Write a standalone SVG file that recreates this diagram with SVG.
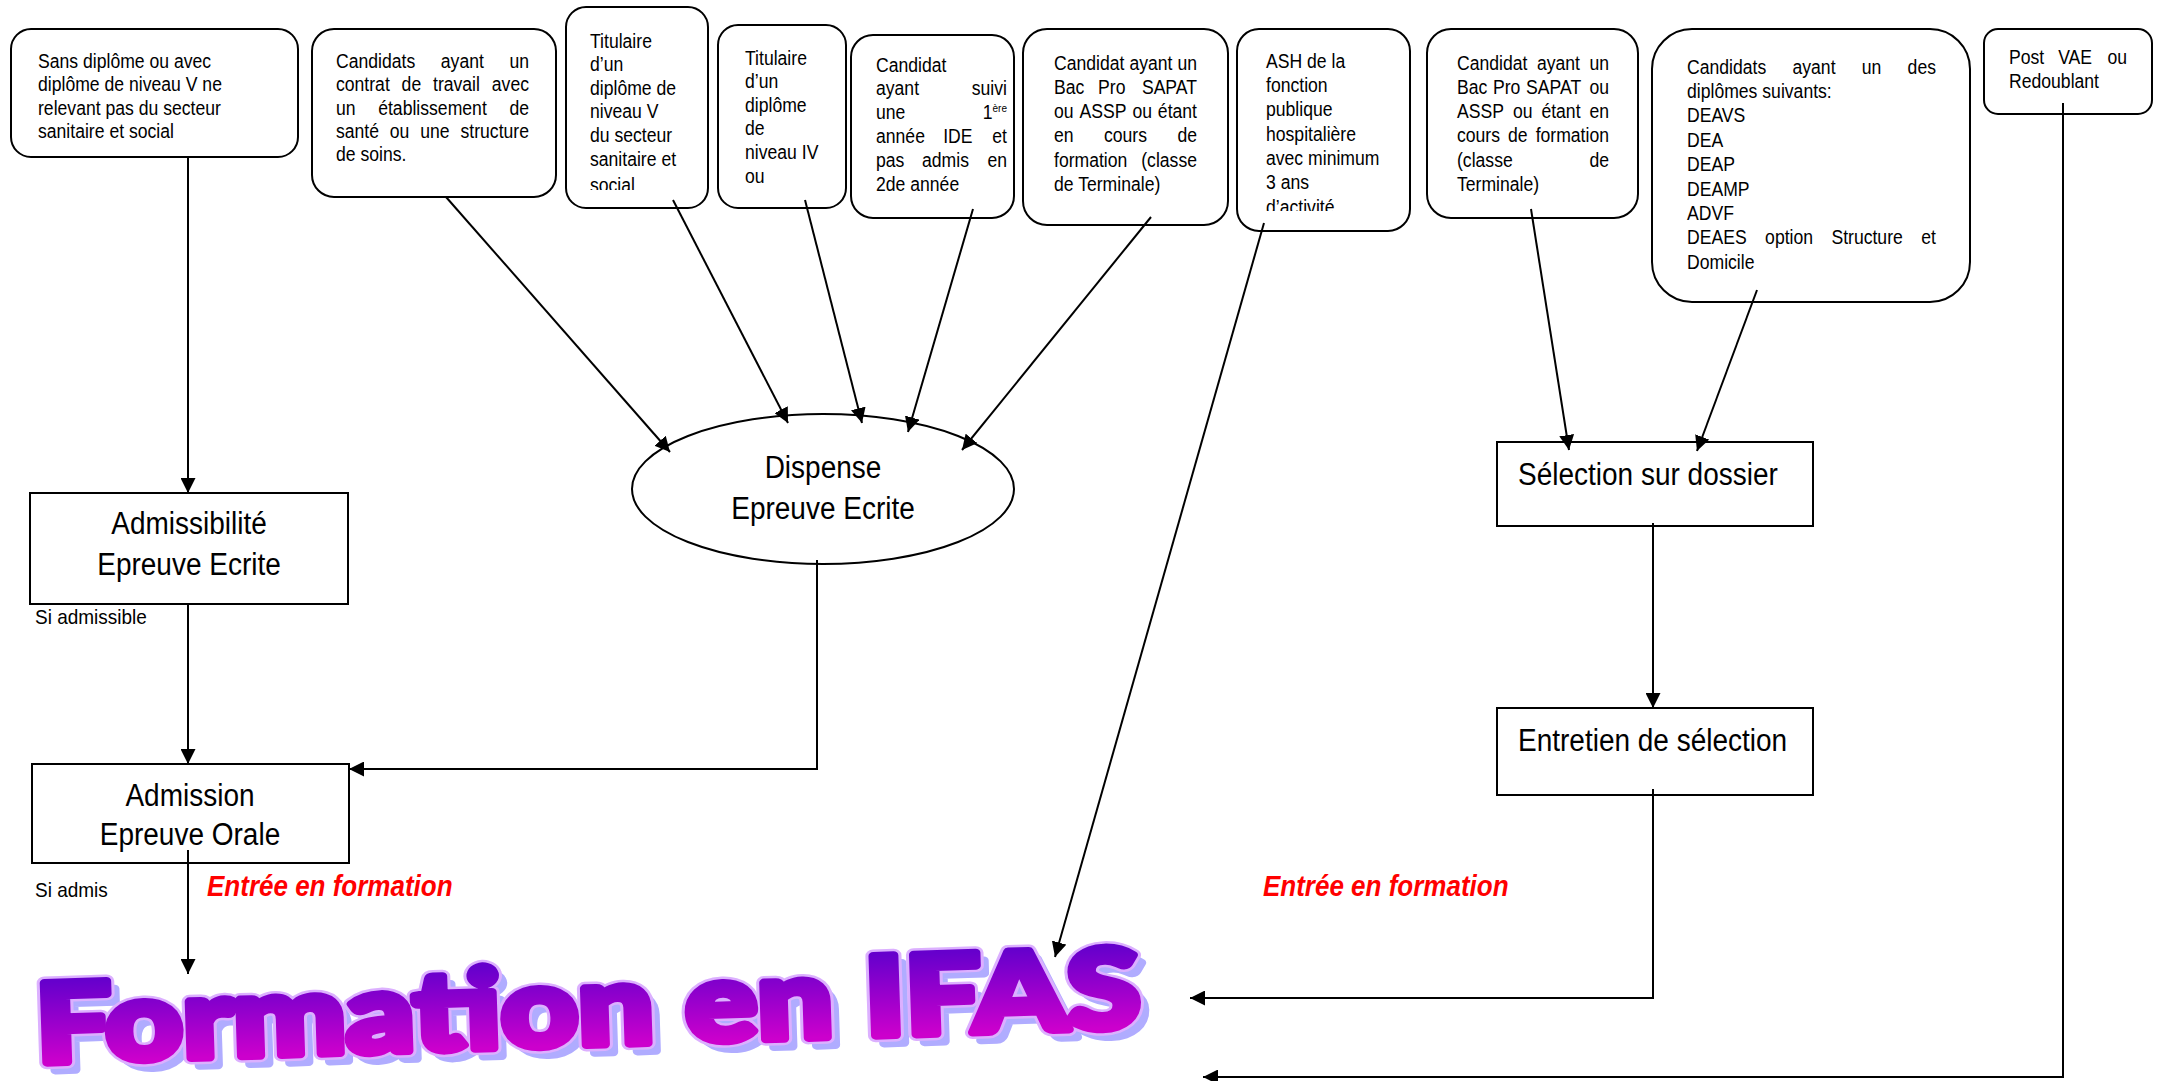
<svg xmlns="http://www.w3.org/2000/svg" width="2157" height="1081" viewBox="0 0 2157 1081">
<style>
.box{fill:#fff;stroke:#000;stroke-width:2}
.t,.big,.lbl,.red{transform-box:fill-box;transform-origin:0 100%;transform:scale(1,1.1)}
.t{font-family:"Liberation Sans",Arial,sans-serif;font-size:17.6px;fill:#000}
.e{text-anchor:end}
.m{text-anchor:middle}
.big{font-family:"Liberation Sans",Arial,sans-serif;font-size:28px;fill:#000}
.lbl{font-family:"Liberation Sans",Arial,sans-serif;font-size:19px;fill:#000}
.red{font-family:"Liberation Sans",Arial,sans-serif;font-size:26px;font-weight:bold;font-style:italic;fill:#ff0000}
.conn{stroke:#000;stroke-width:2;fill:none;marker-end:url(#arrow)}
.ifas{font-family:"Lato","Roboto","Inter","Liberation Sans",sans-serif;font-weight:900;font-size:110px;stroke-linejoin:round}
</style>
<defs>
<marker id="arrow" markerUnits="userSpaceOnUse" viewBox="0 0 15 15" refX="15" refY="7.5" markerWidth="15" markerHeight="15" orient="auto">
<path d="M0,0 L15,7.5 L0,15 z" fill="#000"/>
</marker>
<linearGradient id="grad" gradientUnits="userSpaceOnUse" x1="0" y1="982" x2="0" y2="1063">
<stop offset="0" stop-color="#6600cc"/>
<stop offset="1" stop-color="#cc00cc"/>
</linearGradient>
<clipPath id="clip3"><rect x="566" y="7" width="142" height="183"/></clipPath>
<clipPath id="clip7"><rect x="1237" y="29" width="173" height="182"/></clipPath>
</defs>
<rect width="2157" height="1081" fill="#fff"/>

<g id="n1">
<rect class="box" x="11" y="29" width="287" height="128" rx="20"/>
<text class="t" x="38" y="68">Sans diplôme ou avec</text>
<text class="t" x="38" y="91">diplôme de niveau V ne</text>
<text class="t" x="38" y="115">relevant pas du secteur</text>
<text class="t" x="38" y="138">sanitaire et social</text>
</g>

<g id="n2">
<rect class="box" x="312" y="29" width="244" height="168" rx="22"/>
<text class="t" x="336" y="68">Candidats</text><text class="t" x="440.8" y="68">ayant</text><text class="t e" x="529" y="68">un</text>
<text class="t" x="336" y="91">contrat</text><text class="t" x="401.6" y="91">de</text><text class="t" x="433" y="91">travail</text><text class="t e" x="529" y="91">avec</text>
<text class="t" x="336" y="115">un</text><text class="t" x="378.2" y="115">établissement</text><text class="t e" x="529" y="115">de</text>
<text class="t" x="336" y="138">santé</text><text class="t" x="389.8" y="138">ou</text><text class="t" x="420.2" y="138">une</text><text class="t e" x="529" y="138">structure</text>
<text class="t" x="336" y="161">de soins.</text>
</g>

<g id="n3">
<rect class="box" x="566" y="7" width="142" height="201" rx="20"/>
<g clip-path="url(#clip3)">
<text class="t" x="590" y="48">Titulaire</text>
<text class="t" x="590" y="71.6">d’un</text>
<text class="t" x="590" y="95.2">diplôme de</text>
<text class="t" x="590" y="118.8">niveau V</text>
<text class="t" x="590" y="142.4">du secteur</text>
<text class="t" x="590" y="166">sanitaire et</text>
<text class="t" x="590" y="192">social</text>
</g>
</g>

<g id="n4">
<rect class="box" x="718" y="25" width="128" height="183" rx="20"/>
<text class="t" x="745" y="65">Titulaire</text>
<text class="t" x="745" y="88.6">d’un</text>
<text class="t" x="745" y="112.2">diplôme</text>
<text class="t" x="745" y="135.8">de</text>
<text class="t" x="745" y="159.4">niveau IV</text>
<text class="t" x="745" y="183">ou</text>
</g>

<g id="n5">
<rect class="box" x="851" y="35" width="163" height="183" rx="22"/>
<text class="t" x="876" y="72">Candidat</text>
<text class="t" x="876" y="95.8">ayant</text><text class="t e" x="1007" y="95.8">suivi</text>
<text class="t" x="876" y="119.6">une</text><text class="t e" x="1007" y="119.6">1<tspan font-size="10" dy="-7">ère</tspan></text>
<text class="t" x="876" y="143.4">année</text><text class="t" x="943.2" y="143.4">IDE</text><text class="t e" x="1007" y="143.4">et</text>
<text class="t" x="876" y="167.2">pas</text><text class="t" x="922" y="167.2">admis</text><text class="t e" x="1007" y="167.2">en</text>
<text class="t" x="876" y="191">2de année</text>
</g>

<g id="n6">
<rect class="box" x="1023" y="29" width="205" height="196" rx="24"/>
<text class="t" x="1054" y="70">Candidat</text><text class="t" x="1129.4" y="70">ayant</text><text class="t e" x="1197" y="70">un</text>
<text class="t" x="1054" y="94">Bac</text><text class="t" x="1098.1" y="94">Pro</text><text class="t e" x="1197" y="94">SAPAT</text>
<text class="t" x="1054" y="118">ou</text><text class="t" x="1079.5" y="118">ASSP</text><text class="t" x="1132.4" y="118">ou</text><text class="t e" x="1197" y="118">étant</text>
<text class="t" x="1054" y="142.5">en</text><text class="t" x="1104" y="142.5">cours</text><text class="t e" x="1197" y="142.5">de</text>
<text class="t" x="1054" y="167">formation</text><text class="t e" x="1197" y="167">(classe</text>
<text class="t" x="1054" y="191">de Terminale)</text>
</g>

<g id="n7">
<rect class="box" x="1237" y="29" width="173" height="202" rx="22"/>
<g clip-path="url(#clip7)">
<text class="t" x="1266" y="68">ASH de la</text>
<text class="t" x="1266" y="92.3">fonction</text>
<text class="t" x="1266" y="116.6">publique</text>
<text class="t" x="1266" y="140.9">hospitalière</text>
<text class="t" x="1266" y="165.2">avec minimum</text>
<text class="t" x="1266" y="189.5">3 ans</text>
<text class="t" x="1266" y="214">d’activité</text>
</g>
</g>

<g id="n8">
<rect class="box" x="1427" y="29" width="211" height="189" rx="24"/>
<text class="t" x="1457" y="70">Candidat</text><text class="t" x="1536.9" y="70">ayant</text><text class="t e" x="1609" y="70">un</text>
<text class="t" x="1457" y="94">Bac</text><text class="t" x="1493" y="94">Pro</text><text class="t" x="1526.1" y="94">SAPAT</text><text class="t e" x="1609" y="94">ou</text>
<text class="t" x="1457" y="118">ASSP</text><text class="t" x="1512.9" y="118">ou</text><text class="t" x="1541.4" y="118">étant</text><text class="t e" x="1609" y="118">en</text>
<text class="t" x="1457" y="142.5">cours</text><text class="t" x="1508" y="142.5">de</text><text class="t e" x="1609" y="142.5">formation</text>
<text class="t" x="1457" y="167">(classe</text><text class="t e" x="1609" y="167">de</text>
<text class="t" x="1457" y="191">Terminale)</text>
</g>

<g id="n9">
<rect class="box" x="1652" y="29" width="318" height="273" rx="40"/>
<text class="t" x="1687" y="74">Candidats</text><text class="t" x="1792.5" y="74">ayant</text><text class="t" x="1861.8" y="74">un</text><text class="t e" x="1936" y="74">des</text>
<text class="t" x="1687" y="98.4">diplômes suivants:</text>
<text class="t" x="1687" y="122.8">DEAVS</text>
<text class="t" x="1687" y="147.2">DEA</text>
<text class="t" x="1687" y="171.6">DEAP</text>
<text class="t" x="1687" y="196">DEAMP</text>
<text class="t" x="1687" y="220.4">ADVF</text>
<text class="t" x="1687" y="244.8">DEAES</text><text class="t" x="1765.1" y="244.8">option</text><text class="t" x="1831.4" y="244.8">Structure</text><text class="t e" x="1936" y="244.8">et</text>
<text class="t" x="1687" y="269.2">Domicile</text>
</g>

<g id="n10">
<rect class="box" x="1984" y="29" width="168" height="85" rx="14"/>
<text class="t" x="2009" y="64">Post</text><text class="t" x="2058.2" y="64">VAE</text><text class="t e" x="2127" y="64">ou</text>
<text class="t" x="2009" y="88">Redoublant</text>
</g>

<g id="n-admissibilite">
<rect class="box" x="30" y="493" width="318" height="111"/>
<text class="big m" x="189" y="535">Admissibilité</text>
<text class="big m" x="189" y="576">Epreuve Ecrite</text>
</g>

<g id="n-admission">
<rect class="box" x="32" y="764" width="317" height="99"/>
<text class="big m" x="190" y="807">Admission</text>
<text class="big m" x="190" y="846">Epreuve Orale</text>
</g>

<g id="n-dispense">
<ellipse class="box" cx="823" cy="489" rx="191" ry="75"/>
<text class="big m" x="823" y="479">Dispense</text>
<text class="big m" x="823" y="520">Epreuve Ecrite</text>
</g>

<g id="n-selection">
<rect class="box" x="1497" y="442" width="316" height="84"/>
<text class="big" x="1518" y="486">Sélection sur dossier</text>
</g>

<g id="n-entretien">
<rect class="box" x="1497" y="708" width="316" height="87"/>
<text class="big" x="1518" y="752">Entretien de sélection</text>
</g>

<g id="labels">
<text class="lbl" x="35" y="624">Si admissible</text>
<text class="lbl" x="35" y="897">Si admis</text>
<text class="red" x="207" y="897">Entrée en formation</text>
<text class="red" x="1263" y="897">Entrée en formation</text>
</g>

<g id="n-ifas" transform="rotate(-1.86 36 1063)">
<text class="ifas" x="45" y="1071" textLength="1105" lengthAdjust="spacingAndGlyphs" fill="#b0acff" stroke="#b0acff" stroke-width="8">Formation en IFAS</text>
<text class="ifas" x="37" y="1063" textLength="1105" lengthAdjust="spacingAndGlyphs" fill="none" stroke="#dcb0ff" stroke-width="13">Formation en IFAS</text>
<text class="ifas" x="37" y="1063" textLength="1105" lengthAdjust="spacingAndGlyphs" fill="url(#grad)" stroke="url(#grad)" stroke-width="8">Formation en IFAS</text>
</g>

<g id="connectors">
<path class="conn" d="M188,157 L188,493"/>
<path class="conn" d="M188,604 L188,764"/>
<path class="conn" d="M188,850 L188,974"/>
<path class="conn" d="M446,197 L670,452"/>
<path class="conn" d="M673,200 L788,423"/>
<path class="conn" d="M805,200 L862,423"/>
<path class="conn" d="M973,209 L908,432"/>
<path class="conn" d="M1151,217 L962,450"/>
<path class="conn" d="M817,560 L817,769 L349,769"/>
<path class="conn" d="M1264,223 L1055,957"/>
<path class="conn" d="M1531,209 L1569,450"/>
<path class="conn" d="M1757,290 L1697,451"/>
<path class="conn" d="M1653,523 L1653,708"/>
<path class="conn" d="M1653,789 L1653,998 L1190,998"/>
<path class="conn" d="M2063,103 L2063,1077 L1203,1077"/>
</g>
</svg>
